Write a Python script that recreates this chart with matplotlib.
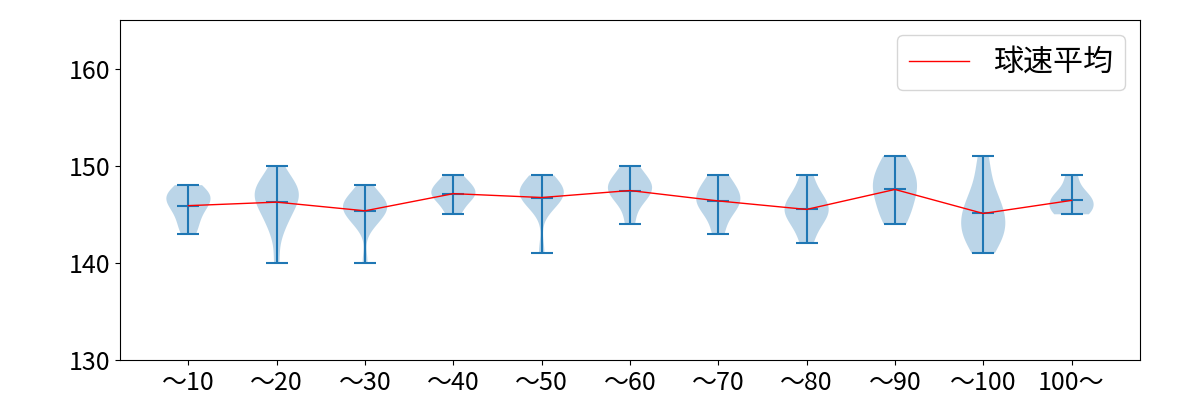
import matplotlib
matplotlib.use("Agg")
from matplotlib import pyplot as plt
import numpy as np

plt.rcParams['font.family'] = ['Noto Sans CJK JP', 'DejaVu Sans']
plt.rcParams['font.size'] = 18

# pitch speed samples (km/h) per pitch-count bucket
labels = ['〜10', '〜20', '〜30', '〜40', '〜50', '〜60', '〜70', '〜80', '〜90', '〜100', '100〜']
speeds_10 = [143, 144, 145, 146, 146, 147, 147, 147, 148]
speeds_20 = [140, 143, 144, 145, 145, 146, 146, 147, 147, 147, 147, 148, 148, 148, 149, 150]
speeds_30 = [140, 144, 144, 145, 145, 145, 146, 146, 146, 146, 146, 147, 147, 148]
speeds_40 = [145, 146, 147, 147, 147, 148, 148, 149]
speeds_50 = [141, 146, 146, 147, 147, 147, 147, 148, 148, 148, 149]
speeds_60 = [144, 146, 147, 147, 148, 148, 148, 149, 150]
speeds_70 = [143, 145, 146, 146, 147, 147, 148, 149]
speeds_80 = [142, 144, 145, 145, 146, 146, 147, 149]
speeds_90 = [144, 145, 146, 147, 148, 148, 149, 150, 151]
speeds_100 = [141, 142, 143, 143, 144, 144, 145, 146, 146, 147, 149, 151]
speeds_over = [145, 145, 146, 146, 147, 147, 149]

data = [speeds_10, speeds_20, speeds_30, speeds_40, speeds_50, speeds_60,
        speeds_70, speeds_80, speeds_90, speeds_100, speeds_over]
positions = np.arange(1, len(data) + 1)
means = [np.mean(d) for d in data]

fig, ax = plt.subplots(figsize=(12, 4), dpi=100)
ax.violinplot(data, positions=positions, showmeans=True)
ax.plot(positions, means, color='red', linewidth=1, label='球速平均')

ax.set_ylim(130, 165)
ax.set_yticks([130, 140, 150, 160])
ax.set_xticks(positions)
ax.set_xticklabels(labels)
ax.legend(loc='upper right', fontsize='large')

plt.subplots_adjust(left=0.1, right=0.95, top=0.95, bottom=0.1)
plt.savefig('out.png')
